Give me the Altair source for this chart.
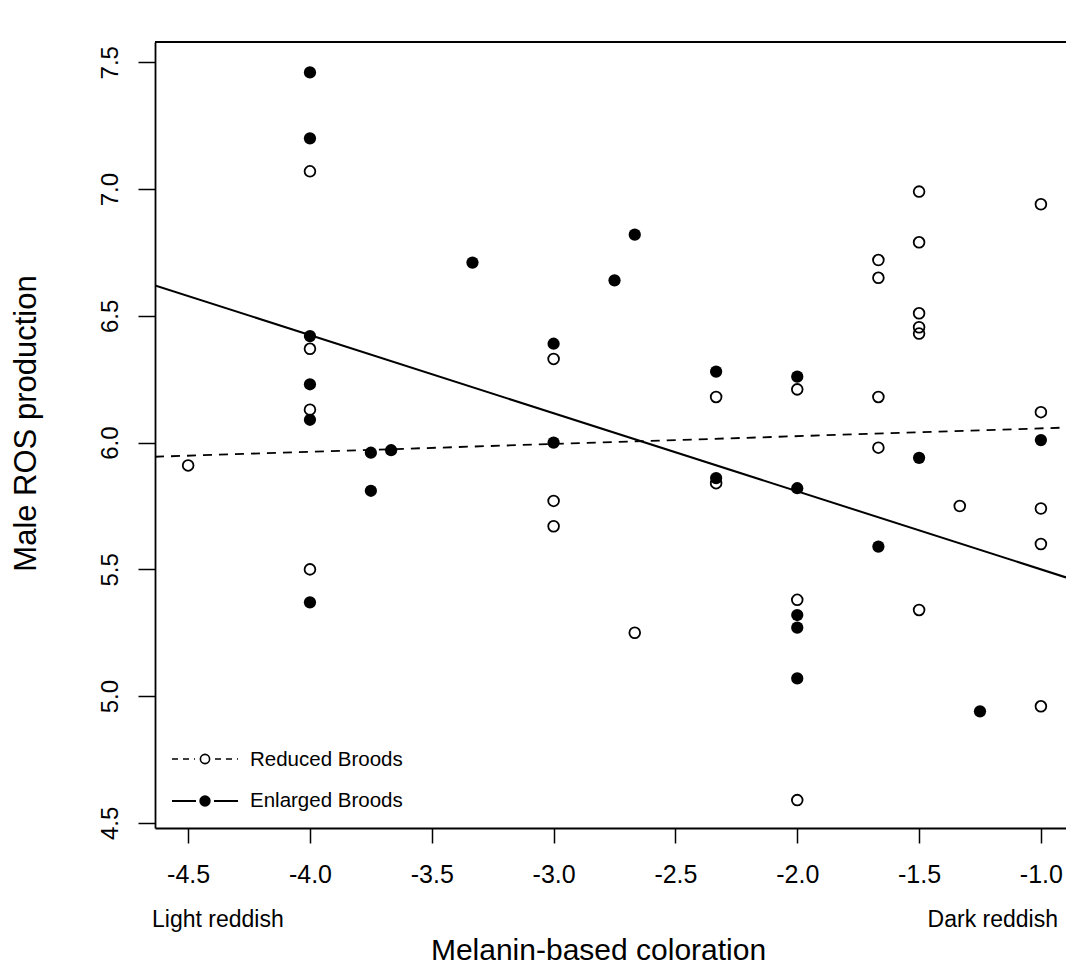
import altair as alt
import pandas as pd

FONT = "Liberation Sans, Arial, Helvetica, sans-serif"

# Reduced broods (open circles)
reduced_x = [-4.5, -4, -4, -4, -4, -3, -3, -3, -2.667, -2.333, -2.333, -2, -2, -2,
             -1.667, -1.667, -1.667, -1.667, -1.5, -1.5, -1.5, -1.5, -1.5, -1.5,
             -1.333, -1, -1, -1, -1, -1]
reduced_y = [5.91, 7.07, 6.37, 6.13, 5.50, 6.33, 5.77, 5.67, 5.25, 6.18, 5.84, 6.21, 5.38, 4.59,
             6.72, 6.65, 6.18, 5.98, 6.99, 6.79, 6.51, 6.455, 6.43, 5.34,
             5.75, 6.94, 6.12, 5.74, 5.60, 4.96]

# Enlarged broods (filled circles)
enlarged_x = [-4, -4, -4, -4, -4, -4, -3.75, -3.667, -3.75, -3.333, -3, -3, -2.75, -2.667,
              -2.333, -2.333, -2, -2, -2, -2, -2, -1.667, -1.5, -1.25, -1]
enlarged_y = [7.46, 7.20, 6.42, 6.23, 6.09, 5.37, 5.96, 5.97, 5.81, 6.71, 6.39, 6.00, 6.64, 6.82,
              6.28, 5.86, 6.26, 5.82, 5.32, 5.27, 5.07, 5.59, 5.94, 4.94, 6.01]

# fitted lines (intercept, slope)
reduced_fit = (6.087, 0.0308)
enlarged_fit = (5.192, -0.308)

x_ticks = [-4.5, -4.0, -3.5, -3.0, -2.5, -2.0, -1.5, -1.0]
y_ticks = [4.5, 5.0, 5.5, 6.0, 6.5, 7.0, 7.5]

X_DOMAIN = [-4.636, -0.897]
Y_DOMAIN = [4.48, 7.58]
W, H = 911, 786

xs = alt.Scale(domain=X_DOMAIN, nice=False, zero=False)
ys = alt.Scale(domain=Y_DOMAIN, nice=False, zero=False)

red_df = pd.DataFrame({"x": reduced_x, "y": reduced_y})
enl_df = pd.DataFrame({"x": enlarged_x, "y": enlarged_y})


def fit_df(fit):
    a, b = fit
    return pd.DataFrame({"x": X_DOMAIN, "y": [a + b * v for v in X_DOMAIN]})


x_axis = alt.Axis(
    values=x_ticks,
    labelExpr="(datum.value < 0 ? '-' : '') + format(abs(datum.value), '.1f')",
    labelFontSize=25, labelFont=FONT, labelColor="black", labelPadding=19,
    labelFlush=False, labelOverlap=False, labelBound=False,
    tickColor="black", tickWidth=1.5, tickSize=15,
    domainColor="black", domainWidth=1.8, grid=False,
    title="Melanin-based coloration", titleFontSize=30, titleFont=FONT,
    titleFontWeight="normal", titleColor="black",
    titleX=443, titleY=131, titleAlign="center", titleBaseline="alphabetic",
)
y_axis = alt.Axis(
    values=y_ticks, format=".1f",
    labelAngle=270, labelAlign="center", labelBaseline="alphabetic",
    labelFontSize=24, labelFont=FONT, labelColor="black", labelPadding=21,
    labelFlush=False, labelOverlap=False, labelBound=False,
    tickColor="black", tickWidth=1.5, tickSize=17,
    domainColor="black", domainWidth=1.8, grid=False,
    title="Male ROS production", titleFontSize=31, titleFont=FONT,
    titleFontWeight="normal", titleColor="black", titleAngle=270,
    titleX=-120, titleY=381, titleAlign="center", titleBaseline="alphabetic",
)


def enc(chart):
    return chart.encode(
        x=alt.X("x:Q", scale=xs, axis=x_axis),
        y=alt.Y("y:Q", scale=ys, axis=y_axis),
    )


red_line = enc(alt.Chart(fit_df(reduced_fit)).mark_line(
    color="black", strokeWidth=1.8, strokeDash=[9, 7], clip=True))

enl_line = enc(alt.Chart(fit_df(enlarged_fit)).mark_line(
    color="black", strokeWidth=2, clip=True))

red_pts = enc(alt.Chart(red_df).mark_point(
    shape="circle", filled=False, color="black", strokeWidth=1.8, size=115, opacity=1))

enl_pts = enc(alt.Chart(enl_df).mark_circle(color="black", size=150, opacity=1))

one = pd.DataFrame({"k": [0]})

top_rule = alt.Chart(one).mark_rule(color="black", strokeWidth=1.8).encode(
    x=alt.value(0), x2=alt.value(W), y=alt.value(0)
)

# legend
leg_layers = []
for x0, x1 in [(17, 40), (60, 83)]:
    leg_layers.append(alt.Chart(one).mark_rule(color="black", strokeWidth=1.6, strokeDash=[6, 5]).encode(
        x=alt.value(x0), x2=alt.value(x1), y=alt.value(717)))
for x0, x1 in [(17, 41), (59, 83)]:
    leg_layers.append(alt.Chart(one).mark_rule(color="black", strokeWidth=2).encode(
        x=alt.value(x0), x2=alt.value(x1), y=alt.value(759)))
leg_layers.append(alt.Chart(one).mark_point(shape="circle", filled=False, color="black",
                                            strokeWidth=1.6, size=85, opacity=1).encode(
    x=alt.value(50), y=alt.value(717)))
leg_layers.append(alt.Chart(one).mark_circle(color="black", size=130, opacity=1).encode(
    x=alt.value(50), y=alt.value(759)))
leg_layers.append(alt.Chart(one).mark_text(text="Reduced Broods", font=FONT, fontSize=20.5,
                                           align="left", baseline="alphabetic", color="black").encode(
    x=alt.value(95), y=alt.value(724)))
leg_layers.append(alt.Chart(one).mark_text(text="Enlarged Broods", font=FONT, fontSize=20.5,
                                           align="left", baseline="alphabetic", color="black").encode(
    x=alt.value(95), y=alt.value(765)))

light = alt.Chart(one).mark_text(text="Light reddish", font=FONT, fontSize=23, align="left",
                                 baseline="alphabetic", color="black").encode(
    x=alt.value(-3), y=alt.value(885))
dark = alt.Chart(one).mark_text(text="Dark reddish", font=FONT, fontSize=23, align="right",
                                baseline="alphabetic", color="black").encode(
    x=alt.value(903), y=alt.value(885))

chart = alt.layer(
    red_line, enl_line, red_pts, enl_pts, top_rule, *leg_layers, light, dark
).properties(
    width=W, height=H,
    autosize=alt.AutoSizeParams(type="none"),
    padding={"left": 155, "top": 42, "right": 0, "bottom": 140},
    background="white",
).configure_view(stroke=None)

chart.save("out.html", embed_options={"renderer": "svg", "actions": False})
